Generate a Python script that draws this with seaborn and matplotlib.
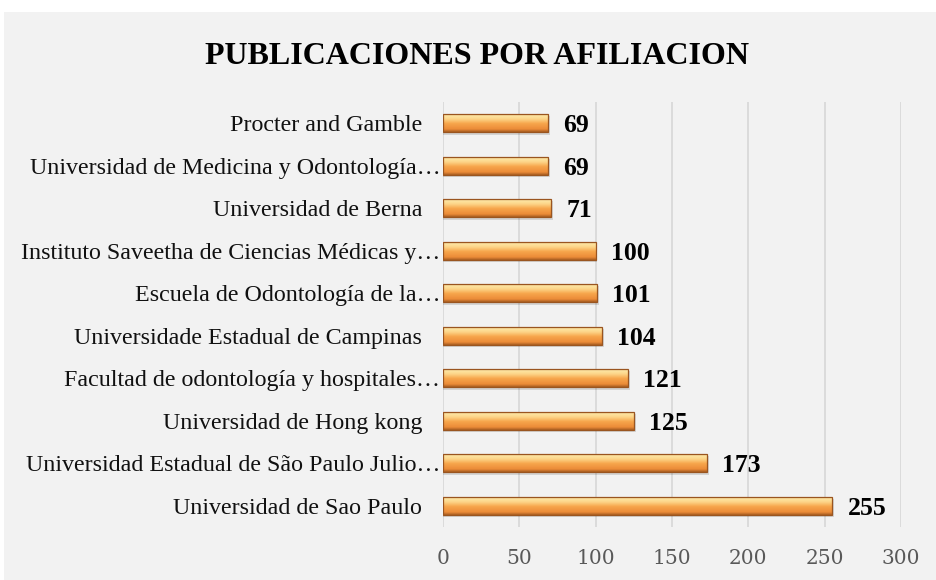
import numpy as np
import pandas as pd
import seaborn as sns
import matplotlib
matplotlib.use("Agg")
import matplotlib.pyplot as plt
from matplotlib.colors import LinearSegmentedColormap
from matplotlib.patches import Rectangle

# Data (top to bottom, as in the chart)
afiliaciones = [
    "Procter and Gamble",
    "Universidad de Medicina y Odontología…",
    "Universidad de Berna",
    "Instituto Saveetha de Ciencias Médicas y…",
    "Escuela de Odontología de la…",
    "Universidade Estadual de Campinas",
    "Facultad de odontología y hospitales…",
    "Universidad de Hong kong",
    "Universidad Estadual de São Paulo Julio…",
    "Universidad de Sao Paulo",
]
publicaciones = [69, 69, 71, 100, 101, 104, 121, 125, 173, 255]
x_ticks = [0, 50, 100, 150, 200, 250, 300]

df = pd.DataFrame({"afiliacion": afiliaciones, "publicaciones": publicaciones})

sns.set_theme(style="white")
plt.rcParams["font.family"] = ["Liberation Serif", "DejaVu Serif"]

fig = plt.figure(figsize=(9.36, 5.8), dpi=100)
fig.patch.set_facecolor("white")
# grey chart area (leaves a thin white margin top/left like the original)
fig.patches.append(Rectangle((4 / 936, 0), 1, 1 - 12 / 580, transform=fig.transFigure,
                             facecolor="#f2f2f2", edgecolor="none", zorder=-10))

ax = fig.add_axes([443 / 936, 1 - 527 / 580, 458 / 936, 425 / 580])
ax.set_facecolor("none")

sns.barplot(data=df, x="publicaciones", y="afiliacion", orient="h", width=0.43,
            color="#f5a04a", ax=ax, zorder=3)

ax.set_xlim(0, 300)
ylim = ax.get_ylim()

# gradient fill for the bars (Excel-ish bevel look)
cmap = LinearSegmentedColormap.from_list("bevel", [
    (0.0, "#e8923e"), (0.12, "#fde6a4"), (0.3, "#fdd68a"),
    (0.55, "#f7a64c"), (0.85, "#ec8c38"), (1.0, "#a85e22")])
grad = np.linspace(0, 1, 64).reshape(-1, 1)
for p in ax.patches:
    x0, y0 = p.get_x(), p.get_y()
    w, h = p.get_width(), p.get_height()
    # soft shadow
    ax.add_patch(Rectangle((x0, y0 + h * 0.12), w + 1.2, h, facecolor="#000000",
                           alpha=0.12, edgecolor="none", zorder=2))
    im = ax.imshow(grad, cmap=cmap, aspect="auto", extent=(x0, x0 + w, y0 + h, y0),
                   origin="upper", zorder=4)
    im.set_clip_path(p)
    p.set_edgecolor("#9a5520")
    p.set_linewidth(0.9)
    p.set_zorder(5)
    p.set_facecolor("none")
    ax.text(x0 + w + 10, y0 + h / 2, f"{int(w)}", va="center_baseline", ha="left",
            fontsize=18.5, fontweight="bold", family="Liberation Serif", color="black",
            zorder=6)

ax.set_ylim(ylim)

ax.set_xticks(x_ticks)
ax.set_xticklabels([str(t) for t in x_ticks], family="DejaVu Serif", fontsize=14.5,
                   color="#595959")
ax.tick_params(axis="x", length=0, pad=16)

# pad non-truncated labels a bit, like the original
ylabels = [lab if lab.endswith("…") else lab + "   " for lab in afiliaciones]
ax.set_yticklabels(ylabels, fontsize=17.3, color="#111111")
ax.tick_params(axis="y", length=0, pad=2)

ax.grid(axis="x", color="#d9d9d9", linewidth=1.3, zorder=0)
ax.grid(axis="y", visible=False)
ax.set_axisbelow(True)
for s in ax.spines.values():
    s.set_visible(False)
ax.set_xlabel("")
ax.set_ylabel("")

fig.text(477 / 936, 1 - 56 / 580, "PUBLICACIONES POR AFILIACION", ha="center", va="center",
         fontsize=23, fontweight="bold", family="Liberation Serif", color="black")

fig.savefig("out.png", dpi=100, facecolor=fig.get_facecolor())
